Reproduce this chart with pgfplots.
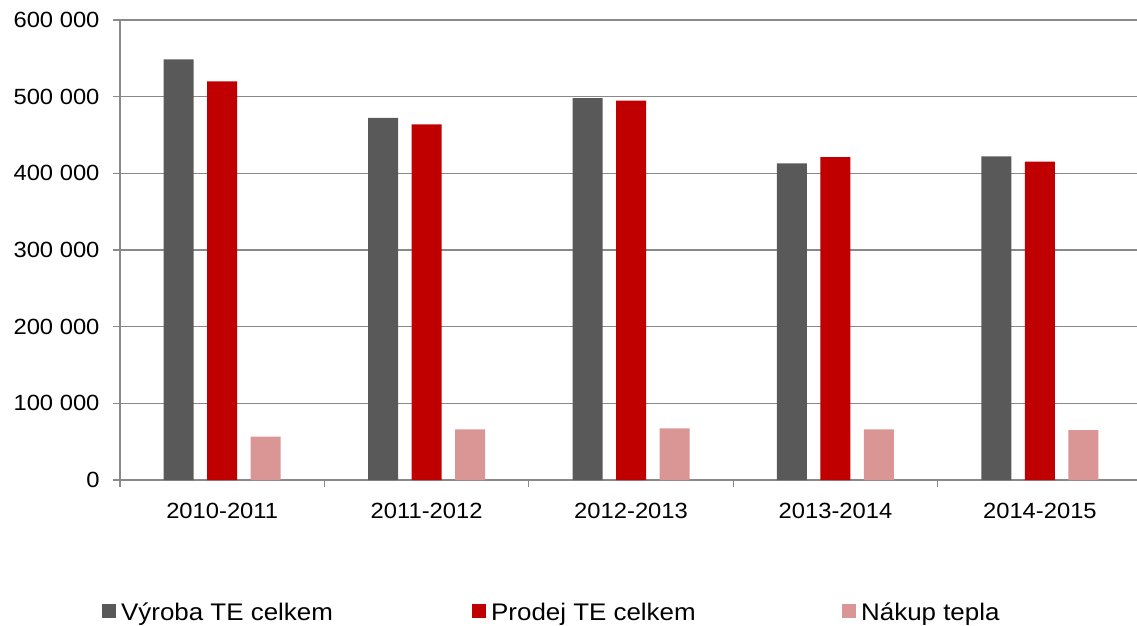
\documentclass[border=0pt]{standalone}
\usepackage{pgfplots}
\pgfplotsset{compat=1.18}
\usepackage{fontspec}
\setmainfont{Liberation Sans}[FakeStretch=1.08]
\definecolor{cVyr}{HTML}{595959}
\definecolor{cPro}{HTML}{C00000}
\definecolor{cNak}{HTML}{D99694}
\definecolor{cGrid}{HTML}{898989}
\begin{document}
\begin{tikzpicture}
\begin{axis}[
  at={(0,0)}, anchor=south west,
  scale only axis,
  width=1017pt, height=460pt,
  xmin=-0.5, xmax=4.475,
  ymin=0, ymax=600000,
  ybar=13.5pt, bar width=30pt,
  axis x line*=bottom, axis y line*=left,
  axis line style={cGrid, line width=1.2pt},
  ytick={0,100000,200000,300000,400000,500000,600000},
  yticklabels={0,100 000,200 000,300 000,400 000,500 000,600 000},
  xtick={0,1,2,3,4},
  xticklabels={2010-2011,2011-2012,2012-2013,2013-2014,2014-2015},
  minor xtick={-0.5,0.5,1.5,2.5,3.5,4.5},
  major x tick style={draw=none},
  minor x tick style={cGrid, line width=1.2pt},
  y tick style={cGrid, line width=1.2pt},
  tick align=outside,
  major tick length=7pt, minor tick length=7pt,
  ymajorgrids,
  grid style={cGrid, line width=1.4pt},
  tick label style={font=\fontsize{22}{26}\selectfont, text=black},
  yticklabel style={xshift=-10pt},
  xticklabel style={yshift=-13pt},
  scaled y ticks=false,
  legend columns=3,
  legend style={at={(0,0)}, anchor=west, xshift=-18pt, yshift=-131pt,
    draw=none, inner sep=0pt, column sep=0pt,
    font=\fontsize{24}{28}\selectfont, cells={anchor=west}},
  legend image code/.code={\fill[#1] (0pt,-7pt) rectangle (14pt,7pt);},
]
\addplot[fill=cVyr, draw=none] coordinates {(0,548700) (1,472300) (2,498000) (3,413000) (4,422000)};
\addplot[fill=cPro, draw=none] coordinates {(0,520000) (1,464000) (2,495000) (3,421000) (4,415300)};
\addplot[fill=cNak, draw=none] coordinates {(0,56500) (1,66000) (2,67500) (3,66000) (4,65200)};
\addlegendentry{\hspace{3pt}\makebox[349pt][l]{\vphantom{Ýj}Výroba TE celkem}}
\addlegendentry{\hspace{3pt}\makebox[349pt][l]{\vphantom{Ýj}Prodej TE celkem}}
\addlegendentry{\hspace{3pt}\vphantom{Ýj}Nákup tepla}
\end{axis}
\pgfresetboundingbox
\useasboundingbox (-120pt,-145pt) rectangle (1017pt,480pt);
\end{tikzpicture}
\end{document}
